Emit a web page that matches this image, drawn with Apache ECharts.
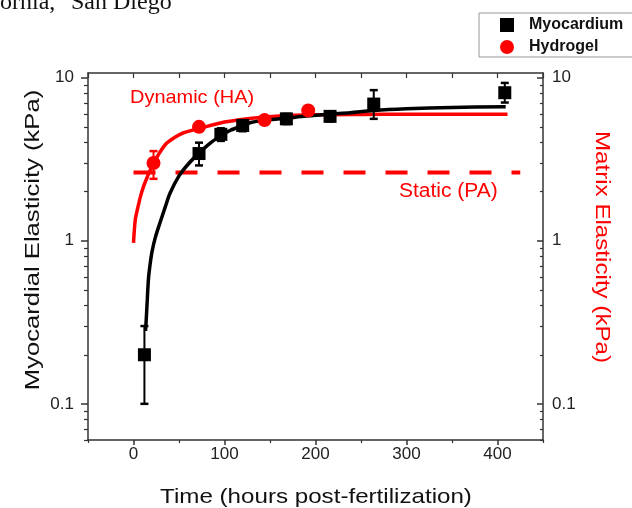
<!DOCTYPE html>
<html><head><meta charset="utf-8">
<script src="https://cdn.jsdelivr.net/npm/echarts@6/dist/echarts.min.js"></script>
<style>html,body{margin:0;padding:0;background:#fff}#c{width:632px;height:508px}</style>
</head><body><div id="c"></div>
<script>
// ---- data ----
const myoHours    = [12, 72, 96, 120, 168, 216, 264, 408];
const myoValues   = [0.2, 3.43, 4.5, 5.1, 5.6, 5.8, 6.9, 8.1];
const myoErrLow   = [0.1, 2.9, 4.1, 4.7, 5.2, 5.4, 5.6, 7.05];
const myoErrHigh  = [0.3, 4.0, 4.9, 5.5, 6.0, 6.2, 8.4, 9.3];

const gelHours    = [22, 72, 144, 192];
const gelValues   = [3.0, 5.0, 5.5, 6.3];
const gelErrLow   = [2.4, 4.7, 5.2, 6.0];
const gelErrHigh  = [3.55, 5.3, 5.8, 6.6];

const myoFitHours  = [13.2, 14, 15, 16.4, 18, 20.2, 24, 29.3, 35, 40, 50, 60, 72, 85, 97, 106, 120, 128, 140, 168, 190, 216, 238, 264, 300, 350, 409];
const myoFitValues = [0.28, 0.33, 0.42, 0.58, 0.7, 0.85, 1.05, 1.3, 1.62, 1.95, 2.5, 2.95, 3.45, 4.0, 4.45, 4.75, 5.1, 5.3, 5.45, 5.65, 5.82, 5.98, 6.1, 6.3, 6.45, 6.57, 6.65];

const gelFitHours  = [0, 2, 5, 8, 11, 15, 20, 27, 36, 45, 55, 73, 100, 130, 160, 200, 250, 300, 411];
const gelFitValues = [0.97, 1.35, 1.62, 1.9, 2.15, 2.45, 2.85, 3.35, 3.95, 4.3, 4.6, 4.9, 5.35, 5.65, 5.83, 5.93, 5.96, 5.97, 5.97];

const staticHours  = [0, 425];
const staticValues = [2.62, 2.62];

const xTickLabels  = [0, 100, 200, 300, 400];
const xMinorTicks  = [-50, 50, 150, 250, 350, 450];
const xTopTicks    = [-50, 0, 50, 100, 150, 200, 250, 300, 350, 400, 450];
const yTickLabels  = [0.1, 1, 10];
const yMinorTicks  = [0.06, 0.07, 0.08, 0.09, 0.2, 0.3, 0.4, 0.5, 0.6, 0.7, 0.8, 0.9, 2, 3, 4, 5, 6, 7, 8, 9];

// ---- chart ----
const FONT = '"Liberation Sans", Arial, sans-serif';
const AX = '#333';
const chart = echarts.init(document.getElementById('c'), null, {renderer: 'canvas'});

const zip = (a, b) => a.map((v, i) => [v, b[i]]);
const zip3 = (a, b, c) => a.map((v, i) => [v, b[i], c[i]]);

function errorBar(color) {
  return function (params, api) {
    const x = api.value(0), lo = api.value(1), hi = api.value(2);
    const p1 = api.coord([x, lo]), p2 = api.coord([x, hi]);
    const w = 4;
    const style = {stroke: color, lineWidth: 2};
    return {type: 'group', children: [
      {type: 'line', shape: {x1: p1[0], y1: p1[1], x2: p2[0], y2: p2[1]}, style},
      {type: 'line', shape: {x1: p1[0] - w, y1: p1[1], x2: p1[0] + w, y2: p1[1]}, style: {stroke: color, lineWidth: 2.5}},
      {type: 'line', shape: {x1: p2[0] - w, y1: p2[1], x2: p2[0] + w, y2: p2[1]}, style: {stroke: color, lineWidth: 2.5}}
    ]};
  };
}

const xBase = {type: 'value', min: -50, max: 450, splitLine: {show: false}};
const yBase = {type: 'log', min: 0.06, max: 10.7, splitLine: {show: false}};
const line = (show) => ({show: show, onZero: false, lineStyle: {color: AX, width: 1.5}});

const option = {
  animation: false,
  backgroundColor: '#fff',
  grid: {left: 88, right: 89, top: 73, bottom: 68, containLabel: false},
  legend: {
    orient: 'vertical', left: 479, top: 13,
    padding: [4, 40, 2, 21], itemGap: 6, itemWidth: 14, itemHeight: 14,
    borderColor: '#999', borderWidth: 1,
    textStyle: {fontFamily: FONT, fontWeight: 'bold', fontSize: 16, color: '#111', lineHeight: 16, padding: [0, 0, 0, 10]},
    data: [{name: 'Myocardium', icon: 'rect'}, {name: 'Hydrogel', icon: 'circle'}]
  },
  xAxis: [
    Object.assign({}, xBase, {position: 'bottom', axisLine: line(true),
      axisTick: {show: true, inside: false, length: 5, customValues: xTickLabels, lineStyle: {color: AX, width: 1.5}},
      axisLabel: {show: true, customValues: xTickLabels, margin: 6, fontFamily: FONT, fontSize: 17, color: '#222'}}),
    Object.assign({}, xBase, {position: 'bottom', axisLine: line(false),
      axisTick: {show: true, inside: false, length: 3, customValues: xMinorTicks, lineStyle: {color: AX, width: 1.2}},
      axisLabel: {show: false}}),
    Object.assign({}, xBase, {position: 'top', axisLine: line(true),
      axisTick: {show: true, inside: true, length: 5, customValues: xTopTicks, lineStyle: {color: AX, width: 1.2}},
      axisLabel: {show: false}})
  ],
  yAxis: [
    Object.assign({}, yBase, {position: 'left', axisLine: line(true),
      axisTick: {show: true, inside: false, length: 7, customValues: yTickLabels, lineStyle: {color: AX, width: 1.5}},
      axisLabel: {show: true, customValues: yTickLabels, margin: 14, fontFamily: FONT, fontSize: 17, color: '#222'}}),
    Object.assign({}, yBase, {position: 'left', axisLine: line(false),
      axisTick: {show: true, inside: false, length: 4, customValues: yMinorTicks, lineStyle: {color: AX, width: 1.2}},
      axisLabel: {show: false}}),
    Object.assign({}, yBase, {position: 'right', axisLine: line(true),
      axisTick: {show: true, inside: true, length: 6, customValues: yTickLabels, lineStyle: {color: AX, width: 1.5}},
      axisLabel: {show: true, customValues: yTickLabels, margin: 9, fontFamily: FONT, fontSize: 17, color: '#222'}}),
    Object.assign({}, yBase, {position: 'right', axisLine: line(false),
      axisTick: {show: true, inside: true, length: 3, customValues: yMinorTicks, lineStyle: {color: AX, width: 1.2}},
      axisLabel: {show: false}})
  ],
  series: [
    {name: 'Static', type: 'line', data: zip(staticHours, staticValues), symbol: 'none',
      lineStyle: {color: '#ff0000', width: 4, type: [22, 20]}, z: 2},
    {name: 'Hydrogel fit', type: 'line', data: zip(gelFitHours, gelFitValues), symbol: 'none', smooth: 0.3,
      lineStyle: {color: '#ff0000', width: 3.5}, z: 3},
    {name: 'Myocardium fit', type: 'line', data: zip(myoFitHours, myoFitValues), symbol: 'none', smooth: 0.3,
      lineStyle: {color: '#000', width: 3.5}, z: 3},
    {name: 'Myocardium err', type: 'custom', data: zip3(myoHours, myoErrLow, myoErrHigh), renderItem: errorBar('#000'), z: 4},
    {name: 'Hydrogel err', type: 'custom', data: zip3(gelHours, gelErrLow, gelErrHigh), renderItem: errorBar('#ff0000'), z: 4},
    {name: 'Myocardium', type: 'scatter', data: zip(myoHours, myoValues), symbol: 'rect', symbolSize: 13,
      itemStyle: {color: '#000', opacity: 1}, z: 5},
    {name: 'Hydrogel', type: 'scatter', data: zip(gelHours, gelValues), symbol: 'circle', symbolSize: 14,
      itemStyle: {color: '#ff0000', opacity: 1}, z: 5}
  ],
  graphic: [
    {type: 'text', x: 0, y: 15, style: {text: 'ornia,', font: '24px "Liberation Serif", "Times New Roman", serif', fill: '#111', textAlign: 'left', textVerticalAlign: 'bottom'}},
    {type: 'text', x: 71, y: 15, style: {text: 'San Diego', font: '24px "Liberation Serif", "Times New Roman", serif', fill: '#111', textAlign: 'left', textVerticalAlign: 'bottom'}},
    {type: 'text', x: 130, y: 98, scaleX: 1.05, style: {text: 'Dynamic (HA)', font: '19px ' + FONT, fill: '#ff0000', textAlign: 'left', textVerticalAlign: 'middle'}},
    {type: 'text', x: 399, y: 191, scaleX: 1.05, style: {text: 'Static (PA)', font: '20px ' + FONT, fill: '#ff0000', textAlign: 'left', textVerticalAlign: 'middle'}},
    {type: 'text', x: 316, y: 497, scaleX: 1.15, style: {text: 'Time (hours post-fertilization)', font: '21px ' + FONT, fill: '#111', textAlign: 'center', textVerticalAlign: 'middle'}},
    {type: 'text', x: 33, y: 240, rotation: Math.PI / 2, scaleX: 1.22, style: {text: 'Myocardial Elasticity (kPa)', font: '21px ' + FONT, fill: '#111', textAlign: 'center', textVerticalAlign: 'middle'}},
    {type: 'text', x: 602, y: 247, rotation: -Math.PI / 2, scaleX: 1.15, style: {text: 'Matrix Elasticity (kPa)', font: '21px ' + FONT, fill: '#ff0000', textAlign: 'center', textVerticalAlign: 'middle'}}
  ]
};
chart.setOption(option);
</script>
</body></html>
